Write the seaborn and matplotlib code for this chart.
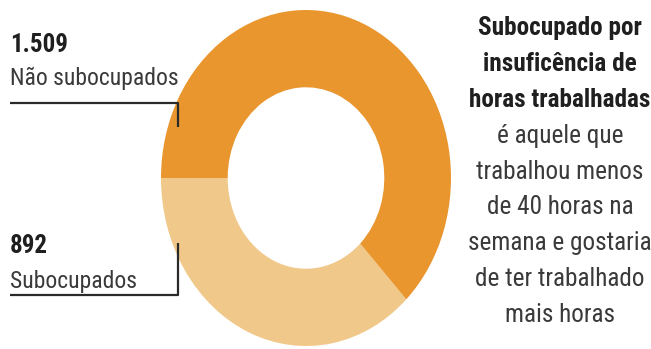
import matplotlib
matplotlib.use("Agg")
import matplotlib.pyplot as plt
from matplotlib import font_manager
import seaborn as sns

# ---- data ----
categories = ["Subocupados", "Não subocupados"]
values = [892, 1509]
value_labels = ["892", "1.509"]
colors = ["#F0C98A", "#E9962F"]
note_bold = ["Subocupado por", "insuficência de", "horas trabalhadas"]
note_regular = ["é aquele que", "trabalhou menos", "de 40 horas na",
                "semana e gostaria", "de ter trabalhado", "mais horas"]

sns.set_theme(style="white")

# pick a condensed family if one exists
fam = None
cond = [f for f in font_manager.fontManager.ttflist
        if str(f.stretch) in ("condensed", "semi-condensed", "extra-condensed")
        or "Narrow" in f.name or "Condensed" in f.name]
pref = ["Roboto", "Liberation", "Open Sans", "Noto Sans", "DejaVu Sans", "Lato", "Inter"]
for p in pref:
    for f in cond:
        if f.name.startswith(p) and "Mono" not in f.name and "Serif" not in f.name:
            fam = f.name
            stretch = f.stretch
            break
    if fam:
        break
if fam is None:
    fam = "Roboto"
    stretch = "normal"
plt.rcParams["font.family"] = [fam, "DejaVu Sans"]
plt.rcParams["font.stretch"] = stretch

W, H = 651, 349
fig = plt.figure(figsize=(W / 100, H / 100), dpi=100)
fig.patch.set_facecolor("white")

# donut axes (slightly elliptical like reference)
cx, cy, rx, ry = 306, 178, 145, 168
ax = fig.add_axes([(cx - rx) / W, (H - cy - ry) / H, 2 * rx / W, 2 * ry / H])
ax.pie(values, colors=colors, startangle=180, counterclock=True,
       wedgeprops=dict(width=0.46, edgecolor="none"), radius=1)
ax.set_aspect("auto")
ax.set_xlim(-1, 1)
ax.set_ylim(-1, 1)
ax.axis("off")

# overlay in pixel coordinates
ov = fig.add_axes([0, 0, 1, 1])
ov.set_xlim(0, W)
ov.set_ylim(H, 0)
ov.axis("off")
ov.patch.set_alpha(0)

dark = "#1f1f1f"
txt = "#3a3a3a"
# left labels
t_v1 = ov.text(10, 52, value_labels[1], fontsize=20, fontweight="bold", color=dark, va="baseline", ha="left")
t_c1 = ov.text(10, 85, categories[1], fontsize=17.5, color=txt, va="baseline", ha="left")
t_v0 = ov.text(10, 253, value_labels[0], fontsize=20, fontweight="bold", color=dark, va="baseline", ha="left")
t_c0 = ov.text(10, 288, categories[0], fontsize=17.5, color=txt, va="baseline", ha="left")

# brackets
ov.plot([10, 178, 178], [103, 103, 127], color="#2a2a2a", lw=1.6, solid_capstyle="butt")
ov.plot([178, 178, 10], [243, 295, 295], color="#2a2a2a", lw=1.6, solid_capstyle="butt")

# right note
lines = note_bold + note_regular
y0, step = 35, 35.9
right = []
for i, s in enumerate(lines):
    bold = i < len(note_bold)
    right.append(ov.text(560, y0 + i * step, s, fontsize=17, ha="center", va="baseline",
                         fontweight="bold" if bold else "normal", color=dark if bold else txt))

# fit text widths to the reference
fig.canvas.draw()
r = fig.canvas.get_renderer()

def fit(group, ref, target):
    w = ref.get_window_extent(r).width
    k = target / w if w > 0 else 1.0
    for t in group:
        t.set_fontsize(t.get_fontsize() * k)

fit([t_v1, t_v0], t_v1, 58)
fit([t_c1, t_c0], t_c1, 168)
fit(right, right[2], 182)

fig.savefig("out.png", dpi=100, facecolor="white")
